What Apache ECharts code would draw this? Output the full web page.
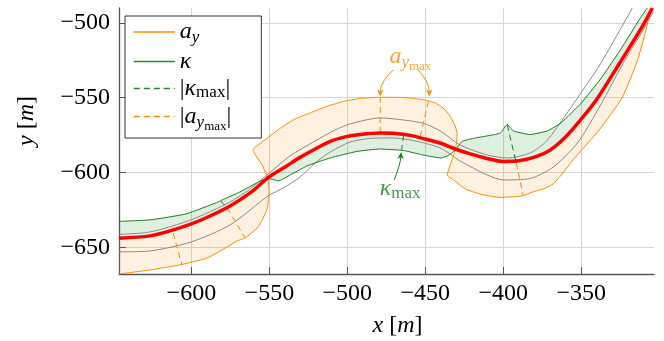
<!DOCTYPE html>
<html>
<head>
<meta charset="utf-8">
<script src="https://cdn.jsdelivr.net/npm/echarts@6.0.0/dist/echarts.min.js"></script>
<style>
  html, body { margin: 0; padding: 0; background: #fff; }
  #chart { width: 664px; height: 341px; }
</style>
</head>
<body>
<div id="chart"></div>
<script>
// tick labels
const xTicks = [-600, -550, -500, -450, -400, -350];
const yTicks = [-650, -600, -550, -500];

// driven path (red)
const pathX = [-646.4, -626.5, -613.7, -600, -588, -575.2, -562.3, -550.2, -539.9, -530.3, -520.6, -511, -501.4, -491.8, -478.9, -469.3, -459.7, -450.1, -440.5, -430.8, -421.2, -411.6, -400, -389.1, -379.5, -369.9, -360.3, -350.6, -339.7, -325, -312.2, -304.4];
const pathY = [-644, -642.4, -639.1, -634.4, -629.1, -622.4, -613.7, -603, -596.3, -589.9, -584.3, -579.2, -576.2, -574.6, -573.6, -573.9, -575.2, -577.6, -580.3, -584.3, -587.6, -590.3, -592.6, -592, -589.6, -585, -576.5, -565, -550.5, -526.1, -504.7, -490];

// lane borders (gray)
const laneLX = [-646.4, -626.5, -600.2, -575.2, -562.3, -550.8, -536.7, -520.6, -507.8, -498.2, -478.9, -459.7, -450.1, -440.5, -427.7, -410.3, -397.5, -382.7, -372.5, -359.6, -355.1, -337.8, -317.3];
const laneLY = [-641.4, -639.8, -631.7, -619.7, -611, -601, -588.9, -578.9, -571.6, -567.5, -563.5, -565.5, -567.5, -572.2, -581.6, -588.3, -590.3, -586.9, -579.2, -560.9, -554.2, -527.4, -490];
const laneRX = [-646.4, -626.5, -600.2, -575.2, -550.8, -539.9, -530.3, -520.6, -511, -498.2, -485.3, -472.5, -459.7, -440.5, -427.7, -410.3, -400, -382.7, -367.9, -352.5, -338, -321.3, -312.2, -303.9];
const laneRY = [-653.1, -652.5, -646.5, -635.1, -615.7, -609.7, -603, -593.6, -586.3, -579.6, -577.2, -576.9, -578.2, -583.6, -592.3, -601.7, -605, -604, -596.3, -580.3, -555.5, -523.4, -508, -492.6];

// curvature envelope (green)
const kappaX = [-646.4, -626.5, -603.4, -582.2, -580.3, -568.8, -556.6, -552.1, -548.2, -544.4, -536.7, -525.8, -511, -493.7, -478.9, -464.2, -451.4, -439.8, -435.3, -432.1, -428.9, -426.4, -419.3, -408.4, -402, -397.5, -393.6, -382.7, -371.8, -363.5, -359, -350, -338.1, -325, -312.2, -307.7];
const kappaY = [-632.7, -631.7, -627.7, -619.5, -618.4, -613, -606.1, -604.3, -604.5, -605.7, -601.7, -595.6, -590.3, -585.9, -584.3, -585.3, -588.3, -590.3, -588.6, -586.3, -582.3, -579.2, -577.2, -575.2, -573.6, -567.9, -572.2, -574.6, -572.2, -567.2, -562.9, -553.5, -538.1, -518.1, -496.7, -490];

// lateral acceleration envelope (orange)
const accX = [-646.4, -626.5, -606, -589.9, -577.1, -570.7, -565.5, -557.2, -551.6, -550.2, -550.8, -554.6, -559.8, -560.4, -559.1, -557.2, -549.5, -541.8, -533.5, -523.9, -514.2, -502.7, -491.8, -478.9, -466.1, -457.8, -450.1, -443.7, -438.6, -434.7, -431.5, -429.6, -429.9, -430.8, -433.4, -435.3, -436, -434.7, -432.7, -424.4, -414.8, -402.1, -388, -380.9, -372.6, -368.1, -362.3, -355.3, -346.3, -338, -323.9, -314.3, -308.5, -305.9];
const accY = [-667.9, -665.2, -661.5, -657.2, -649.8, -645.8, -643.8, -636.4, -625.1, -613, -605, -595, -586.9, -584.9, -582.9, -581.6, -575.6, -569.5, -564.2, -560.2, -556.2, -552.5, -550.5, -549.7, -549.8, -550.5, -551.5, -553.5, -556.8, -561.5, -567.5, -573.6, -578.9, -584.9, -593, -599, -601.6, -603.3, -604.3, -611, -614.4, -616.7, -615.7, -613, -610.3, -607.7, -601, -591.6, -580.9, -570.9, -550.2, -526.1, -504.7, -492.6];

// max markers: [x0, y0, x1, y1]
const kappaMaxSegs = [[-581.3, -619.0, -577.1, -623.7], [-463.9, -574.9, -465.2, -584.9], [-397.5, -568.2, -391.7, -593.6]];
const ayMaxSegs = [[-611.7, -640.4, -606.0, -662.2], [-577.1, -623.7, -565.5, -643.8], [-478.9, -573.6, -478.9, -549.8], [-453.3, -575.9, -447.8, -551.5], [-391.7, -593.6, -387.2, -615.7]];

// annotation arrows: [x0, y0, ctrlX, ctrlY, x1, y1]
const ayArrows = [[-470.6, -531.4, -478.9, -539.5, -478.9, -549.2], [-454.6, -531.4, -447.5, -539.5, -447.5, -549.2]];
const kappaArrows = [[-470.0, -605.0, -466.1, -595.0, -465.5, -586.3]];
const ayLabelPos = [-459.6, -522.4];
const kappaLabelPos = [-466.1, -611.0];

const SERIF = "'Liberation Serif', 'DejaVu Serif', serif";
const ORANGE = '#ff8c00';
const GREEN = '#1b7d1b';
const GRAY = '#8a8a8a';

function xy(xs, ys) { return xs.map((x, i) => [x, ys[i]]); }
function segData(segs) {
  const out = [];
  segs.forEach(s => { out.push([s[0], s[1]], [s[2], s[3]], [s[2], '-']); });
  return out;
}
function mathRich(color) {
  return {
    i: { fontFamily: SERIF, fontStyle: 'italic', fontSize: 24, color },
    r: { fontFamily: SERIF, fontSize: 24, color },
    s: { fontFamily: SERIF, fontStyle: 'italic', fontSize: 17, padding: [12, 0, 0, 0], color },
    sm: { fontFamily: SERIF, fontSize: 17, padding: [9, 0, 0, 0], color },
    ss: { fontFamily: SERIF, fontSize: 13, padding: [20, 0, 0, 0], color }
  };
}
const minus = v => String(v).replace('-', '\u2212');

function bandItem(xs, ys, color) {
  return function (params, api) {
    const pts = [];
    for (let i = 0; i < xs.length; i++) pts.push(api.coord([xs[i], ys[i]]));
    for (let i = pathX.length - 1; i >= 0; i--) pts.push(api.coord([pathX[i], pathY[i]]));
    return { type: 'polygon', shape: { points: pts }, style: { fill: color } };
  };
}

function arrowItem(color) {
  return function (params, api) {
    const p0 = api.coord([api.value(0), api.value(1)]);
    const c = api.coord([api.value(2), api.value(3)]);
    const p1 = api.coord([api.value(4), api.value(5)]);
    const dx = p1[0] - c[0], dy = p1[1] - c[1];
    const len = Math.hypot(dx, dy) || 1;
    const ux = dx / len, uy = dy / len;
    const L = 7, W = 3.2;
    const bx = p1[0] - ux * L, by = p1[1] - uy * L;
    const nx = p1[0] - ux * L * 0.7, ny = p1[1] - uy * L * 0.7;
    return {
      type: 'group',
      children: [
        { type: 'bezierCurve', shape: { x1: p0[0], y1: p0[1], cpx1: c[0], cpy1: c[1], x2: nx, y2: ny },
          style: { stroke: color, fill: 'none', lineWidth: 1 } },
        { type: 'polygon', shape: { points: [p1, [bx - uy * W, by + ux * W], [nx, ny], [bx + uy * W, by - ux * W]] },
          style: { fill: color } }
      ]
    };
  };
}

const legendText = {
  ay: '{i|a}{s|y}',
  kappa: '{i|κ}',
  kappaMax: '{r||}{i|κ}{sm|max}{r||}',
  ayMax: '{r||}{i|a}{s|y}{ss|max}{r||}'
};

const chart = echarts.init(document.getElementById('chart'), null, { renderer: 'canvas' });

const line = (name, data, color, width, type, z, smooth) => ({
  name, type: 'line', data, showSymbol: false, symbol: 'none', silent: true, smooth: smooth || false,
  lineStyle: { color, width, type: type || 'solid' }, itemStyle: { color }, z: z || 2
});

const option = {
  animation: false,
  backgroundColor: '#fff',
  grid: { left: 119, right: 10, top: 8, bottom: 67, containLabel: false, outerBoundsMode: 'none' },
  legend: {
    data: [
      { name: 'ay', lineStyle: { color: ORANGE, width: 1.4, type: 'solid' } },
      { name: 'kappa', lineStyle: { color: '#268a26', width: 1.6, type: 'solid' } },
      { name: 'kappaMax', lineStyle: { color: '#268a26', width: 1.4, type: [6, 4] } },
      { name: 'ayMax', lineStyle: { color: ORANGE, width: 1.4, type: [6, 4] } }
    ],
    orient: 'vertical',
    left: 125, top: 16,
    itemWidth: 41, itemHeight: 14, itemGap: 3,
    padding: [4, 30, 5, 8],
    backgroundColor: '#fff',
    borderColor: '#333', borderWidth: 1,
    selectedMode: false,
    itemStyle: { opacity: 0 },
    formatter: name => legendText[name],
    textStyle: { fontFamily: SERIF, fontSize: 24, color: '#000', rich: mathRich('#000') },
    z: 10
  },
  xAxis: {
    type: 'value', min: -646.4, max: -303.4,
    name: '{i|x} [{i|m}]', nameLocation: 'middle', nameGap: 40,
    nameTextStyle: { fontFamily: SERIF, fontSize: 24, color: '#000', padding: [0, 0, 0, 22], rich: mathRich('#000') },
    axisLine: { onZero: false, lineStyle: { color: '#555', width: 1.3 } },
    axisTick: { inside: true, length: 7, customValues: xTicks, lineStyle: { color: '#555' } },
    axisLabel: { customValues: xTicks, formatter: minus, fontFamily: SERIF, fontSize: 24, color: '#000', margin: 8 },
    splitLine: { show: true, lineStyle: { color: '#d6d6d6', width: 1 } }
  },
  yAxis: {
    type: 'value', min: -667.9, max: -490,
    name: '{i|y} [{i|m}]', nameLocation: 'middle', nameGap: 80,
    nameTextStyle: { fontFamily: SERIF, fontSize: 24, color: '#000', padding: [0, 0, 0, 40], rich: mathRich('#000') },
    axisLine: { onZero: false, lineStyle: { color: '#555', width: 1.3 } },
    axisTick: { inside: true, length: 7, customValues: yTicks, lineStyle: { color: '#555' } },
    axisLabel: { customValues: yTicks, formatter: minus, fontFamily: SERIF, fontSize: 24, color: '#000', margin: 9 },
    splitLine: { show: true, lineStyle: { color: '#d6d6d6', width: 1 } }
  },
  series: [
    { type: 'custom', silent: true, clip: true, data: [[pathX[0], pathY[0]]],
      renderItem: bandItem(accX, accY, 'rgba(255,140,0,0.12)'), z: 1 },
    { type: 'custom', silent: true, clip: true, data: [[pathX[0], pathY[0]]],
      renderItem: bandItem(kappaX, kappaY, 'rgba(0,128,0,0.12)'), z: 1 },
    line('laneR', xy(laneRX, laneRY), GRAY, 1, 'solid', 2, 0.25),
    line('laneL', xy(laneLX, laneLY), GRAY, 1, 'solid', 2, 0.25),
    line('ay', xy(accX, accY), ORANGE, 1, 'solid', 2, 0.15),
    line('kappa', xy(kappaX, kappaY), GREEN, 1, 'solid', 2, 0.15),
    line('kappaMax', segData(kappaMaxSegs), GREEN, 1, [6, 4]),
    line('ayMax', segData(ayMaxSegs), ORANGE, 1, [6, 4]),
    line('path', xy(pathX, pathY), '#ff0000', 3.5, 'solid', 3, 0.3),
    { type: 'custom', silent: true, data: ayArrows, renderItem: arrowItem(ORANGE), z: 4 },
    { type: 'custom', silent: true, data: kappaArrows, renderItem: arrowItem(GREEN), z: 4 },
    { type: 'scatter', silent: true, symbolSize: 0, data: [ayLabelPos], z: 4,
      label: { show: true, position: 'inside', formatter: '{i|a}{s|y}{ss|max}', color: ORANGE, rich: mathRich(ORANGE) } },
    { type: 'scatter', silent: true, symbolSize: 0, data: [kappaLabelPos], z: 4,
      label: { show: true, position: 'inside', formatter: '{i|κ}{sm|max}', color: GREEN, rich: mathRich(GREEN) } }
  ]
};

chart.setOption(option);
</script>
</body>
</html>
